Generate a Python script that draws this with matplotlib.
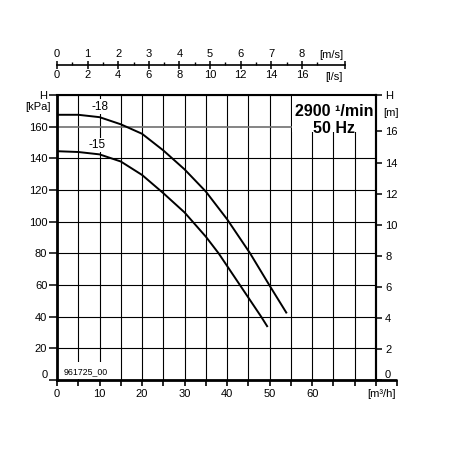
import matplotlib
matplotlib.use('Agg')
import matplotlib.pyplot as plt
from matplotlib.patches import Rectangle
from matplotlib.lines import TICKDOWN

plt.rcParams['font.family'] = ['Liberation Sans', 'DejaVu Sans']

# ---- data ----
flow_18 = [0, 5, 10, 15, 20, 25, 30, 35, 40, 45.4, 49.9, 53.9]          # m3/h
head_18 = [167.5, 167.5, 166, 161.5, 155.5, 145, 133, 119, 101.5, 80, 60, 42.6]  # kPa
flow_15 = [0, 5, 10, 15, 20, 25, 30, 35, 38, 43, 48, 49.4]
head_15 = [144.5, 144, 142.5, 138, 129.5, 118, 105.8, 90.5, 80, 60, 40, 34]

x_major = [0, 10, 20, 30, 40, 50, 60]
x_minor = [5, 15, 25, 35, 45, 55, 65, 70, 75]
y_kpa = [0, 20, 40, 60, 80, 100, 120, 140, 160]
y_m = [0, 2, 4, 6, 8, 10, 12, 14, 16]
ls_ticks = [0, 2, 4, 6, 8, 10, 12, 14, 16]
ms_ticks = [0, 1, 2, 3, 4, 5, 6, 7, 8]

KPA_PER_M = 9.81
M3H_PER_LS = 3.6
LS_PER_MS = 2.0
XMAX, YMAX = 75, 180

fig = plt.figure(figsize=(4.5, 4.5), dpi=100)
W = H = 450.0
L, R, T, B = 57, 376, 95, 380
ax = fig.add_axes([L / W, 1 - B / H, (R - L) / W, (B - T) / H])
ax.set_xlim(0, XMAX)
ax.set_ylim(0, YMAX)
ax.set_axisbelow(True)

# x axis
ax.set_xticks(x_major)
ax.set_xticklabels([str(v) for v in x_major])
ax.set_xticks(x_minor, minor=True)
ax.tick_params(axis='x', which='both', direction='out', length=4, width=1.2,
               labelsize=8, pad=2.5)

# left y axis
ax.set_yticks(y_kpa + [YMAX])
ax.set_yticklabels([str(v) for v in y_kpa] + ['H'])
ax.tick_params(axis='y', which='both', direction='out', length=5.5, width=1.1,
               labelsize=8, pad=1.5)
for lab in ax.get_yticklabels():
    if lab.get_text() == '0':
        lab.set_va('bottom')

ax.grid(True, which='both', color='black', lw=0.8)
# the 160 kPa grid line is drawn grey in the reference
ax.yaxis.get_major_ticks()[8].gridline.set_color('#707070')
ax.yaxis.get_major_ticks()[8].gridline.set_linewidth(1.2)

for s in ['left', 'bottom']:
    ax.spines[s].set_linewidth(2)
for s in ['top', 'right']:
    ax.spines[s].set_linewidth(1.5)

# bottom axis extension to 80 with tick
ax.plot([XMAX, 80], [0, 0], color='k', lw=2, clip_on=False, solid_capstyle='butt')
ax.plot([80], [0], marker=TICKDOWN, ms=4, mew=1.2, color='k', clip_on=False)

# white boxes covering grid
ax.add_patch(Rectangle((55.2, 156.5), XMAX - 55.2, YMAX - 156.5,
                       facecolor='white', edgecolor='none', zorder=1))
ax.add_patch(Rectangle((0.3, 0.4), 13.3, 11.0,
                       facecolor='white', edgecolor='none', zorder=1))

# curves
ax.plot(flow_18, head_18, color='k', lw=1.4, zorder=3)
ax.plot(flow_15, head_15, color='k', lw=1.4, zorder=3)

ax.text(10.0, 172.6, '-18', fontsize=8.5, ha='center', va='center', zorder=4,
        bbox=dict(facecolor='white', edgecolor='none', pad=1.0))
ax.text(9.4, 148.4, '-15', fontsize=8.5, ha='center', va='center', zorder=4,
        bbox=dict(facecolor='white', edgecolor='none', pad=1.0))

ax.text(65.2, 169.4, '2900 \u00b9/min', fontsize=11.5, fontweight='bold',
        ha='center', va='center', zorder=4)
ax.text(65.2, 159.0, '50 Hz', fontsize=11.5, fontweight='bold',
        ha='center', va='center', zorder=4)
ax.text(6.8, 5.0, '961725_00', fontsize=6.3, ha='center', va='center', zorder=4)

# right axis (m)
ax2 = ax.twinx()
ax2.set_ylim(0, YMAX / KPA_PER_M)
ax2.set_yticks(y_m + [YMAX / KPA_PER_M])
ax2.set_yticklabels([str(v) for v in y_m] + ['H'])
ax2.tick_params(axis='y', direction='out', length=4.5, width=1.1, labelsize=8, pad=2)
for lab in ax2.get_yticklabels():
    if lab.get_text() == '0':
        lab.set_va('bottom')
for s in ['left', 'bottom', 'top']:
    ax2.spines[s].set_visible(False)
ax2.spines['right'].set_linewidth(1.5)

fig.text(38 / W, 1 - 107 / H, '[kPa]', fontsize=8, ha='center', va='center')
fig.text(391 / W, 1 - 113 / H, '[m]', fontsize=8, ha='center', va='center')
fig.text(381.7 / W, 1 - 394 / H, '[m\u00b3/h]', fontsize=8, ha='center', va='center')

# top velocity / flow axis
axt = fig.add_axes([L / W, 1 - 65 / H, (R - L) / W, 1 / H])
axt.patch.set_visible(False)
axt.set_xlim(0, XMAX)
axt.set_ylim(0, 1)
for s in ['top', 'left', 'right']:
    axt.spines[s].set_visible(False)
end_pos = 67.6
axt.spines['bottom'].set_bounds(0, end_pos)
axt.spines['bottom'].set_linewidth(1.2)
axt.set_yticks([])
axt.set_xticks([v * M3H_PER_LS for v in ls_ticks] + [end_pos])
axt.set_xticklabels([str(v) for v in ls_ticks] + [''])
minor_pos = [(m + 0.5) * LS_PER_MS * M3H_PER_LS for m in ms_ticks]
axt.set_xticks(minor_pos, minor=True)
axt.tick_params(axis='x', which='major', direction='inout', length=5.5, width=1.1,
                labelsize=8, pad=1.0)
axt.tick_params(axis='x', which='minor', direction='in', length=2.2, width=1.0)

f = LS_PER_MS * M3H_PER_LS
sec = axt.secondary_xaxis('top', functions=(lambda x: x / f, lambda v: v * f))
sec.set_xticks(ms_ticks)
sec.set_xticklabels([str(v) for v in ms_ticks])
sec.tick_params(axis='x', length=0, labelsize=8, pad=3.5)
for s in sec.spines.values():
    s.set_visible(False)

fig.text(343 / W, 1 - 55 / H, '[m/s]', fontsize=8, ha='right', va='center')
fig.text(343 / W, 1 - 77 / H, '[l/s]', fontsize=8, ha='right', va='center')

fig.savefig('out.png', dpi=100)
